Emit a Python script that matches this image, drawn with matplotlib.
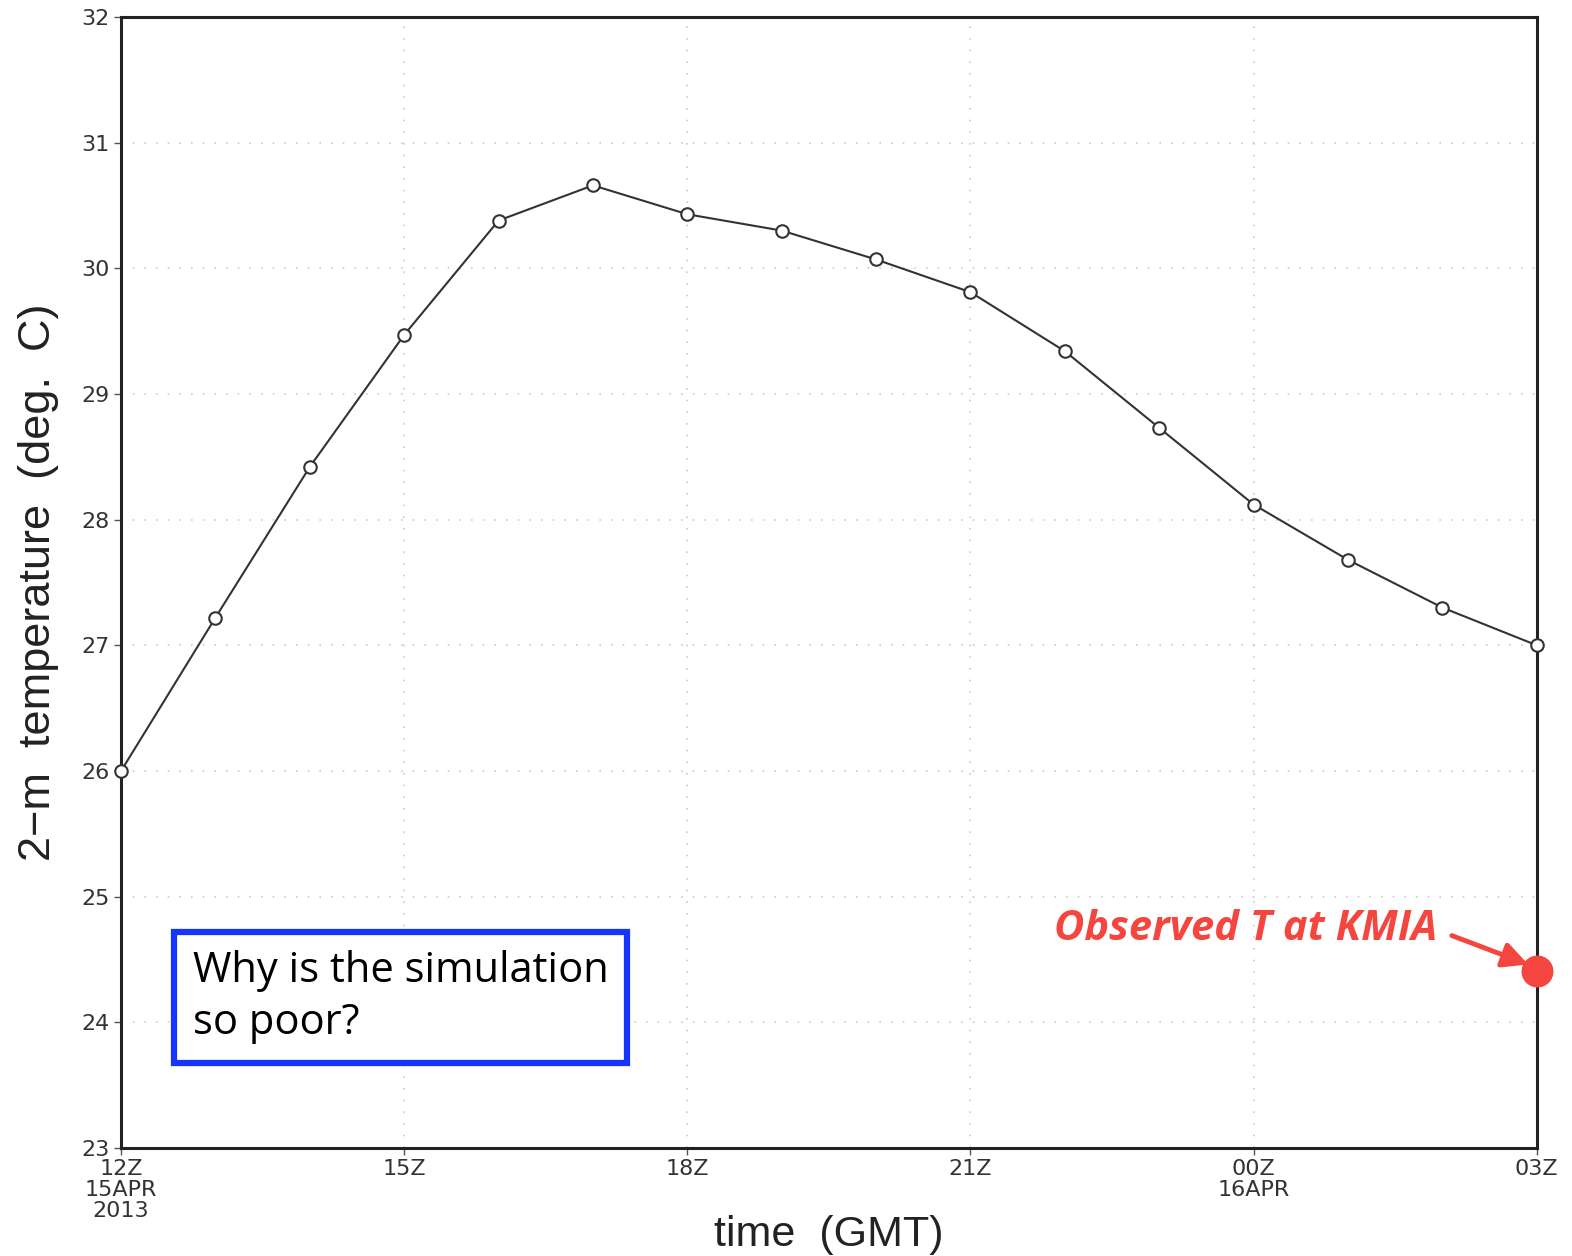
import matplotlib
matplotlib.use("Agg")
import matplotlib.pyplot as plt
import numpy as np

# hourly model 2-m temperature, 12Z 15APR2013 -> 03Z 16APR2013
hours = list(range(16))
temps = [26.0, 27.22, 28.42, 29.47, 30.38, 30.66, 30.43, 30.30,
         30.07, 29.81, 29.34, 28.73, 28.12, 27.68, 27.30, 27.0]
tick_hours = [0, 3, 6, 9, 12, 15]
tick_labels = ['12Z\n15APR\n2013', '15Z', '18Z', '21Z', '00Z\n16APR', '03Z']
y_ticks = [23, 24, 25, 26, 27, 28, 29, 30, 31, 32]

obs_hour = 15
obs_temp = 24.41

fig = plt.figure(figsize=(15.72, 12.56), dpi=100)
ax = fig.add_axes([0.077, 0.086, 0.9006, 0.9005])

ax.plot(hours, temps, color='#333333', lw=1.5, marker='o', ms=9,
        mfc='white', mec='#333333', mew=1.5, zorder=3, clip_on=False)
ax.plot([obs_hour], [obs_temp], 'o', color='#f4463f', ms=22, zorder=4, clip_on=False)

ax.set_xlim(0, 15)
ax.set_ylim(23, 32)
ax.set_xticks(tick_hours)
ax.set_xticklabels(tick_labels, linespacing=1.05)
ax.set_yticks(y_ticks)

tick_font = ['Liberation Sans Narrow', 'DejaVu Sans']
for lab in ax.get_xticklabels() + ax.get_yticklabels():
    lab.set_family(tick_font)
    lab.set_fontsize(16)
    lab.set_color('#333333')
ax.tick_params(axis='both', length=5, width=1, color='#555555', pad=3)

ax.grid(True, color='#cccccc', linestyle=(0, (1, 6)), lw=1.2)
for s in ax.spines.values():
    s.set_linewidth(2.2)
    s.set_color('#222222')

ax.set_ylabel('2\u2212m  temperature  (deg.  C)', fontsize=32.5, family='Liberation Sans',
              color='#222222', labelpad=16)
ax.set_xlabel('time  (GMT)', fontsize=31, family='Liberation Sans', color='#222222',
              labelpad=-4)

# question box
ax.text(0.76, 24.2, 'Why is the simulation\nso poor?', fontsize=30, family='Open Sans',
        va='center', ha='left', linespacing=1.3,
        bbox=dict(boxstyle='square,pad=0.45', fc='white', ec='#1535ff', lw=4.5))

# observation annotation
ax.text(13.95, 24.74, 'Observed T at KMIA', fontsize=30, fontweight='bold',
        fontstyle='italic', family='Open Sans', color='#f4463f', ha='right', va='center')
ax.annotate('', xy=(14.91, 24.46), xytext=(14.1, 24.69),
            arrowprops=dict(arrowstyle='-|>', color='#f4463f', lw=3.5,
                            mutation_scale=38, shrinkA=0, shrinkB=0))

fig.savefig('out.png', dpi=100)
